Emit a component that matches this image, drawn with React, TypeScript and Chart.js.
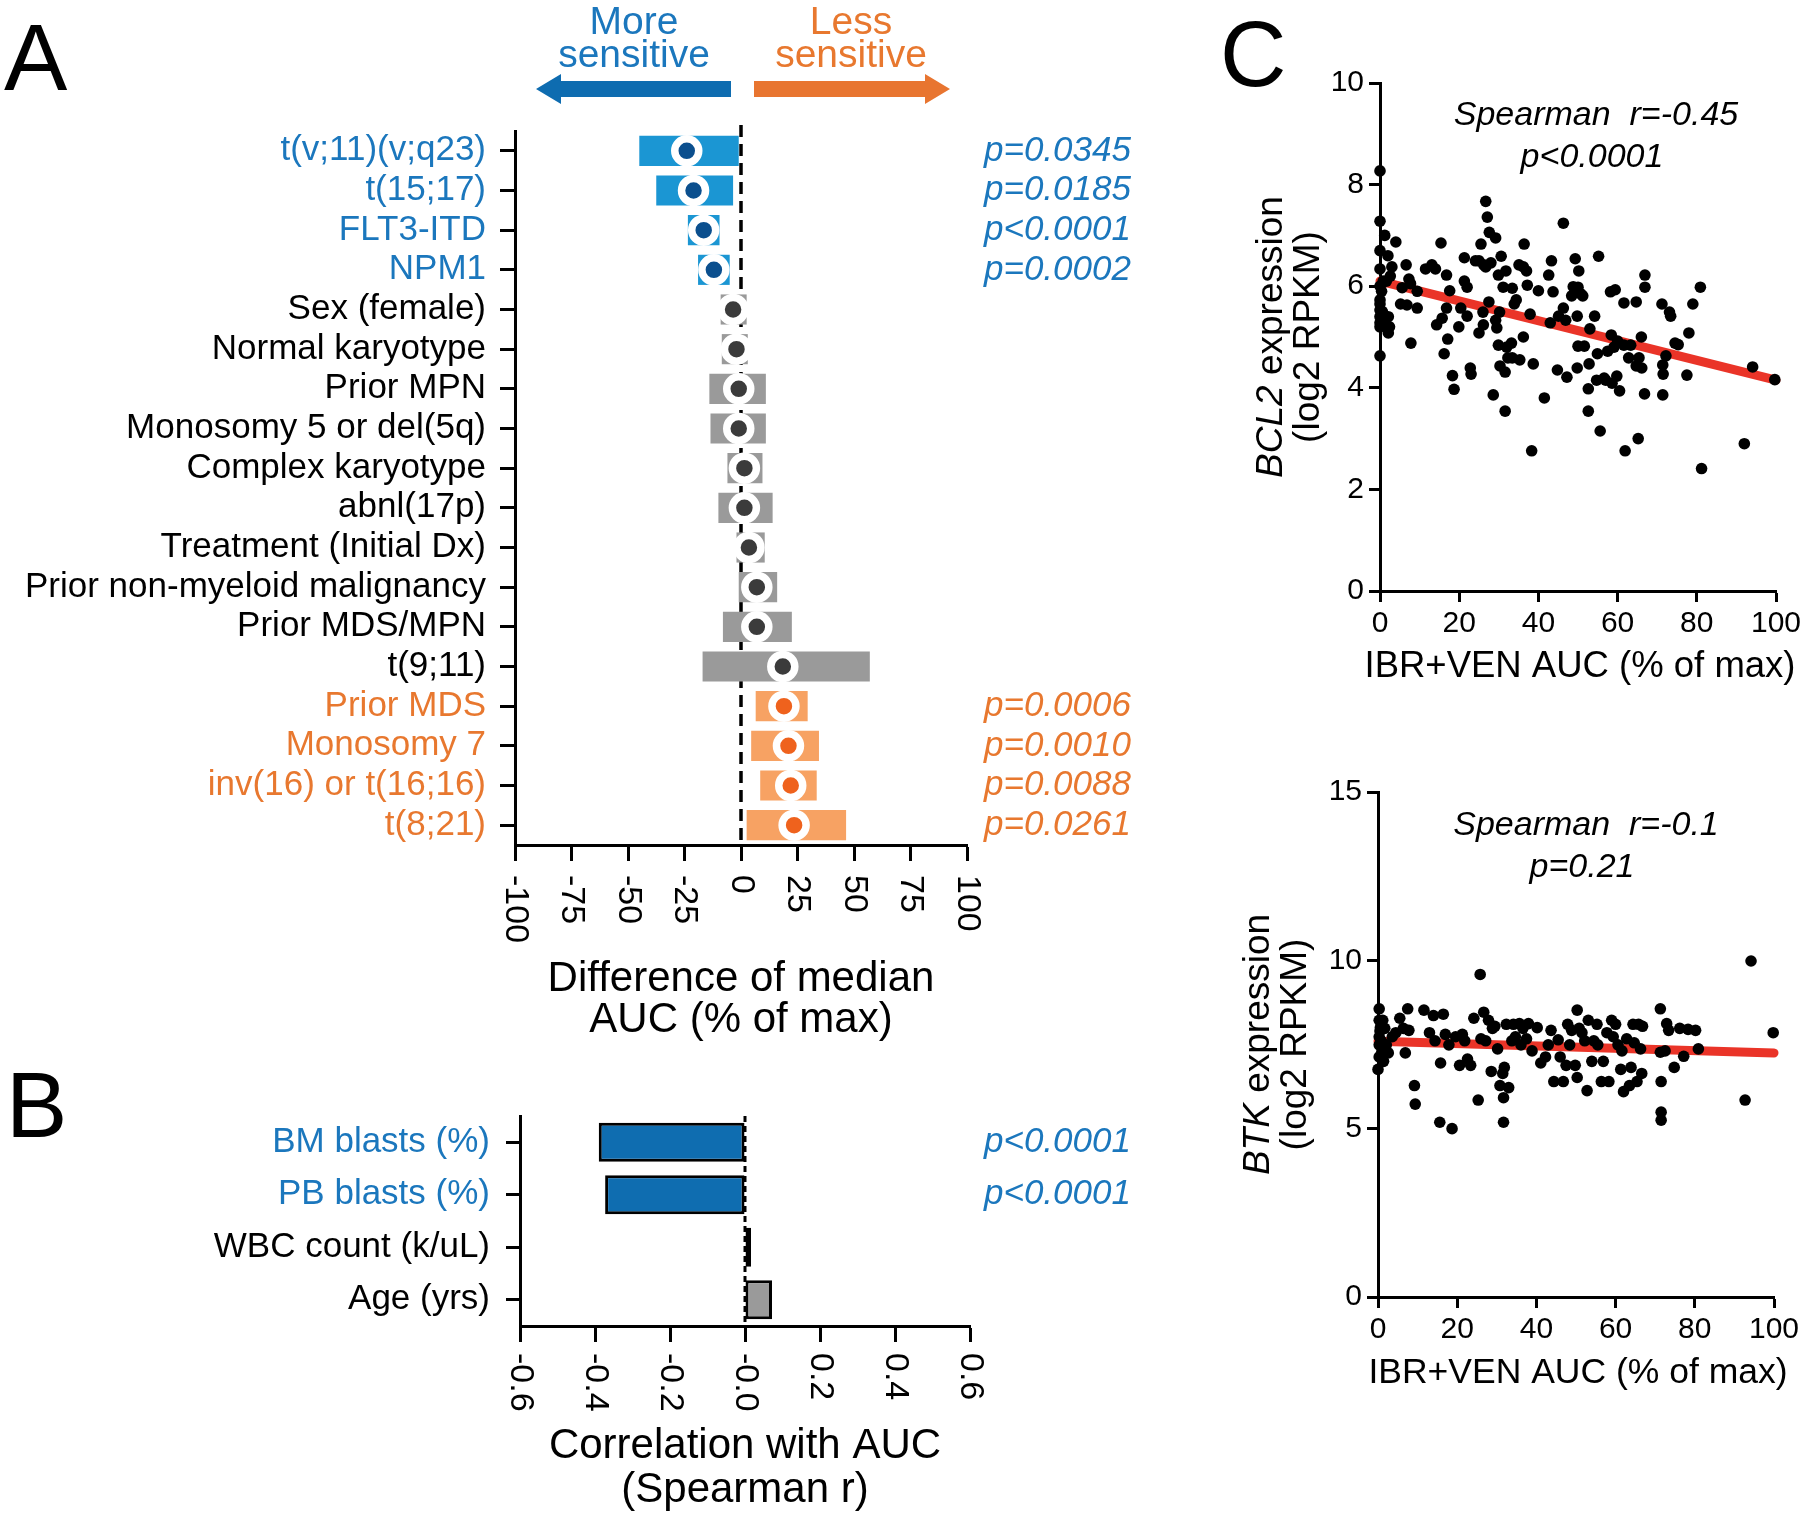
import React, { useEffect, useRef } from 'react';
import { Chart, registerables } from 'chart.js';
Chart.register(...registerables);

const W = 1800;
const H = 1515;
const FONT = '"Liberation Sans", Arial, Helvetica, sans-serif';

// ---------- Panel A data ----------
const catsA = ['t(v;11)(v;q23)', 't(15;17)', 'FLT3-ITD', 'NPM1', 'Sex (female)', 'Normal karyotype', 'Prior MPN',
  'Monosomy 5 or del(5q)', 'Complex karyotype', 'abnl(17p)', 'Treatment (Initial Dx)', 'Prior non-myeloid malignancy',
  'Prior MDS/MPN', 't(9;11)', 'Prior MDS', 'Monosomy 7', 'inv(16) or t(16;16)', 't(8;21)'];
const lowA = [-45, -37.5, -23.5, -19, -9, -8.5, -14, -13.5, -6, -10, -2, -1, -8, -17, 6.5, 4.5, 8.5, 2.5];
const highA = [-1, -3.5, -9.5, -5, 2.5, 3, 11, 11, 9.5, 14, 10.5, 16, 22.5, 57, 29.5, 34.5, 33.5, 46.5];
const medA = [-24, -21, -16.5, -12, -3.5, -2, -1, -1, 1.5, 1.5, 3.5, 7, 7, 18.5, 19, 21, 22, 23.5];
const groupA = ['more', 'more', 'more', 'more', 'ns', 'ns', 'ns', 'ns', 'ns', 'ns', 'ns', 'ns', 'ns', 'ns',
  'less', 'less', 'less', 'less'];
const pA = ['p=0.0345', 'p=0.0185', 'p<0.0001', 'p=0.0002', '', '', '', '', '', '', '', '', '', '',
  'p=0.0006', 'p=0.0010', 'p=0.0088', 'p=0.0261'];
const ticksA = ['-100', '-75', '-50', '-25', '0', '25', '50', '75', '100'];

// ---------- Panel B data ----------
const catsB = ['BM blasts (%)', 'PB blasts (%)', 'WBC count (k/uL)', 'Age (yrs)'];
const rB = [-0.39, -0.373, 0.016, 0.072];
const groupB = ['more', 'more', 'ns', 'ns'];
const pB = ['p<0.0001', 'p<0.0001', '', ''];
const ticksB = ['-0.6', '-0.4', '-0.2', '-0.0', '0.2', '0.4', '0.6'];

// ---------- Panel C data ----------
const bcl2X = [0, 0, 0, 0, 0, 0, 0, 0, 0, 0, 0, 0, 0.4, 0.6, 0.8, 1.0,
  1.2, 2, 2.6, 3, 1.6, 2.1, 2.1, 2.4, 4, 5.6, 5.2, 6.6, 6.8, 7.3, 7.7, 7.8, 9.4, 9.4,
  11.5, 13.1, 14, 14.3, 15.4, 15.7, 16.2, 16.8, 16.8, 17.1, 17.6, 18.3, 18.7, 19.9, 20.4, 21.3, 21.3, 22, 22,
  22.8, 23, 24.1, 25, 25, 25.5, 26, 26.1, 26.2, 26.7, 26.7, 27.1, 27.5, 27.6, 28, 28.6, 29.2, 29.2, 29.5, 29.9,
  29.9, 30.2, 30.3, 30.6, 31.1, 31.6, 31.6, 31.8, 32, 32.3, 33.2, 33.4, 33.4, 33.9, 34.4, 35.1, 35.3, 36.2, 36.2,
  36.4, 37, 37.2, 37.9, 38.3, 38.7, 40, 41.5, 42.6, 43, 43.3, 43.7, 44.8, 45.1, 46.3, 46.3, 46.9, 47.2, 48.4,
  48.8, 49.3, 49.8, 49.8, 50, 50, 50.2, 50.7, 51.2, 51.6, 52.6, 52.6, 52.8, 53, 54.2, 54.7, 54.9, 55.2, 55.6,
  56.6, 57, 57.5, 58.2, 58.4, 58.6, 59.4, 59.8, 59.1, 60, 60.5, 61.6, 61.6, 61.9, 62.8, 63.3, 64.7, 64.7, 65.2,
  65.4, 66, 66.1, 66.8, 66.9, 66.9, 71.2, 71.4, 71.5, 71.4, 72.2, 73.1, 73.4, 74.5, 75.3, 77.5, 78, 79, 80.9,
  81.2, 92, 94.1, 99.7];
const bcl2Y = [8.27, 7.28, 6.7, 6.34, 6.0, 5.73, 5.65, 5.53, 5.4, 5.28, 5.2, 4.63, 5.9, 5.5, 6.1, 5.35,
  7.0, 6.6, 6.2, 6.38, 6.1, 5.4, 5.08, 5.2, 6.87, 5.97, 5.65, 6.42, 5.63, 6.14, 6.05, 4.88, 5.9, 5.57,
  6.34, 6.42, 6.34, 5.24, 6.85, 5.37, 4.67, 6.22, 5.57, 4.96, 5.91, 4.24, 3.97, 5.2, 5.57, 6.56, 6.1, 5.98, 5.41,
  4.39, 4.27, 6.5, 6.5, 5.08, 6.83, 5.49, 5.24, 6.42, 7.67, 6.38, 7.36, 5.69, 7.06, 6.46, 3.86, 6.95, 5.33, 5.18, 6.22,
  4.84, 5.49, 4.43, 6.59, 5.98, 4.31, 3.54, 6.3, 4.8, 4.59, 4.88, 4.59, 5.96, 5.65, 5.73, 6.42, 4.55, 6.38, 5.0,
  6.83, 6.3, 6.02, 5.45, 2.76, 4.47, 5.91, 3.8, 6.22, 5.28, 6.5, 5.89, 4.35, 5.41, 7.24, 5.57, 5.33, 4.21, 5.81,
  5.99, 6.54, 4.39, 5.41, 5.98, 4.82, 6.3, 5.85, 5.81, 4.82, 3.98, 3.54, 4.47, 5.16, 5.41, 4.15, 4.67, 6.59, 3.15,
  4.19, 4.15, 4.72, 5.89, 5.04, 4.09, 5.93, 4.23, 4.8, 4.92, 3.94, 5.67, 4.84, 2.76, 4.59, 4.84, 5.69, 4.43, 3.0,
  4.59, 5.0, 4.39, 3.88, 6.22, 5.98, 5.65, 4.45, 4.27, 3.86, 4.63, 5.49, 5.41, 4.88, 4.85, 4.25, 5.08, 5.65, 5.98,
  2.41, 2.9, 4.41, 4.16];
const bcl2Fit = [6.1, 4.15];

const btkX = [0.3, 0.3, 0.3, 0.3, 0.3, 0, 0.8, 1.2, 1.7, 2.1, 2.6, 1.5, 0.5, 1.0, 0.6, 1.4,
  3.6, 4.5, 5.5, 6.4, 6.9, 7.5, 7.8, 9.2, 9.4, 11.6, 13, 14, 14.4, 15.6, 15.8, 16.5, 17, 17.9, 18.7, 19.6, 20.6,
  21.3, 21.9, 22.6, 23.4, 24.2, 25.3, 25.8, 26, 26.7, 27.2, 27.9, 28.6, 28.9, 29.5, 30.2, 30.8, 31.5, 31.7, 31.7,
  31.9, 32.4, 33, 33.8, 34.2, 34.7, 35.7, 36.1, 36.6, 37.5, 38, 38.9, 40.2, 41.1, 42.3, 43, 43.7, 44.4, 45.5, 46,
  46.8, 47.5, 47.9, 48.4, 48.9, 49.8, 50.3, 50.3, 50.8, 51.5, 52.2, 52.8, 53.1, 54, 54.5, 55.3, 55.5, 56.4, 56.9,
  57.8, 58.3, 59, 59.4, 60, 60.6, 61.6, 61.3, 62, 62.8, 63.5, 63.9, 64.4, 64.7, 65.4, 65.8, 66.3, 66.6, 66.8,
  71.3, 71.3, 71.5, 71.5, 71.5, 72.5, 72.9, 73.4, 74.8, 76.2, 77.2, 78.3, 80.2, 80.9, 92.7, 94.2, 99.8];
const btkY = [8.56, 8.22, 7.73, 7.49, 7.13, 6.76, 7.61, 8.22, 7.98, 7.49, 7.25, 7.37, 7.9, 7.3, 8.0, 7.0,
  7.73, 7.85, 8.28, 7.98, 7.25, 8.56, 7.92, 6.28, 5.73, 8.52, 7.85, 8.36, 7.61, 5.19, 6.95, 8.4, 7.8, 7.49, 5.0, 7.73, 6.88,
  7.8, 7.61, 7.07, 6.88, 8.28, 5.85, 9.58, 7.67, 8.46, 7.61, 8.22, 6.7, 7.98, 8.04, 7.37, 6.28, 6.64, 5.92, 5.19,
  6.82, 8.1, 6.22, 7.61, 8.1, 7.73, 8.12, 7.49, 7.98, 7.67, 8.12, 7.31, 8.0, 6.95, 7.13, 7.49, 7.92, 6.4, 7.64, 7.13,
  6.4, 6.88, 8.1, 7.49, 7.92, 6.88, 8.52, 6.52, 7.98, 7.85, 7.61, 6.13, 8.22, 7.0, 7.61, 8.1, 7.49, 6.4, 7.0,
  7.85, 6.4, 8.22, 7.73, 8.1, 7.49, 7.31, 6.76, 6.1, 7.67, 6.28, 6.82, 8.1, 7.55, 6.4, 8.1, 7.37, 6.64, 8.04,
  8.56, 7.27, 6.4, 5.49, 5.25, 7.31, 8.12, 7.92, 6.82, 7.98, 7.15, 7.95, 7.92, 7.37, 5.85, 9.98, 7.85];
const btkFit = [7.6, 7.25];
const fitX = [0, 100];

// ---------- colours ----------
const BLUE_TXT = '#1b77bd';
const ORANGE_TXT = '#e8782f';
const barColor: Record<string, string> = { more: '#1b96d3', ns: '#9a9a9a', less: '#f7a263' };
const dotColor: Record<string, string> = { more: '#0b4f8e', ns: '#3b3b3b', less: '#ef621d' };
const txtColor: Record<string, string> = { more: BLUE_TXT, ns: '#000000', less: ORANGE_TXT };

const f = (size: number, style = '') => `${style ? style + ' ' : ''}${size}px ${FONT}`;

function text(ctx: CanvasRenderingContext2D, s: string, x: number, y: number, font: string, color = '#000',
  align: CanvasTextAlign = 'center', baseline: CanvasTextBaseline = 'middle') {
  ctx.save();
  ctx.font = font;
  ctx.fillStyle = color;
  ctx.textAlign = align;
  ctx.textBaseline = baseline;
  ctx.fillText(s, x, y);
  ctx.restore();
}

function runs(ctx: CanvasRenderingContext2D, parts: { t: string; font: string }[], x: number, y: number) {
  ctx.save();
  ctx.textBaseline = 'middle';
  ctx.textAlign = 'left';
  ctx.fillStyle = '#000';
  let total = 0;
  parts.forEach((p) => { ctx.font = p.font; total += ctx.measureText(p.t).width; });
  let cx = x - total / 2;
  parts.forEach((p) => { ctx.font = p.font; ctx.fillText(p.t, cx, y); cx += ctx.measureText(p.t).width; });
  ctx.restore();
}

function rotTicks(chart: any, labels: string[], offset: number, font: string) {
  const s = chart.scales.x;
  const ctx = chart.ctx as CanvasRenderingContext2D;
  s.ticks.forEach((t: any, i: number) => {
    const x = s.getPixelForValue(t.value);
    ctx.save();
    ctx.translate(x, s.top + offset);
    ctx.rotate(Math.PI / 2);
    ctx.font = font;
    ctx.fillStyle = '#000';
    ctx.textAlign = 'left';
    ctx.textBaseline = 'middle';
    ctx.fillText(labels[i] ?? '', 0, 0);
    ctx.restore();
  });
}

function zeroLine(chart: any, extraTop: number, width: number, dash: number[]) {
  const ctx = chart.ctx as CanvasRenderingContext2D;
  const x = chart.scales.x.getPixelForValue(0);
  const a = chart.chartArea;
  ctx.save();
  ctx.strokeStyle = '#000';
  ctx.lineWidth = width;
  ctx.setLineDash(dash);
  ctx.beginPath();
  ctx.moveTo(x, a.top - extraTop);
  ctx.lineTo(x, a.bottom);
  ctx.stroke();
  ctx.restore();
}

function arrow(ctx: CanvasRenderingContext2D, tail: number, tip: number, yc: number, color: string) {
  const dir = tip > tail ? 1 : -1;
  const shaft = 16, headH = 30, headL = 25;
  const neck = tip - dir * headL;
  ctx.save();
  ctx.fillStyle = color;
  ctx.beginPath();
  ctx.moveTo(tail, yc - shaft / 2);
  ctx.lineTo(neck, yc - shaft / 2);
  ctx.lineTo(neck, yc - headH / 2);
  ctx.lineTo(tip, yc);
  ctx.lineTo(neck, yc + headH / 2);
  ctx.lineTo(neck, yc + shaft / 2);
  ctx.lineTo(tail, yc + shaft / 2);
  ctx.closePath();
  ctx.fill();
  ctx.restore();
}

const axisGrid = (len: number) => ({
  display: true, drawOnChartArea: false, drawTicks: true, tickLength: len, tickWidth: 3, tickColor: '#000', offset: false,
});
const axisBorder = { display: true, width: 3, color: '#000' };
const fixW = (w: number) => (s: any) => { s.width = w; s.paddingTop = 0; s.paddingBottom = 0; s.paddingLeft = 0; s.paddingRight = 0; };
const fixH = (h: number) => (s: any) => { s.height = h; s.paddingTop = 0; s.paddingBottom = 0; s.paddingLeft = 0; s.paddingRight = 0; };

function configA(): any {
  const top = 131, bottom = 845, left = 515, right = 967;
  return {
    type: 'bar',
    data: {
      labels: catsA,
      datasets: [
        {
          type: 'line', indexAxis: 'y', data: medA, showLine: false, clip: false,
          pointRadius: 12, pointHoverRadius: 12, pointBorderWidth: 7.5, pointBorderColor: '#fff',
          pointBackgroundColor: groupA.map((g) => dotColor[g]), xAxisID: 'x', yAxisID: 'y', order: 0,
        },
        {
          type: 'bar', data: lowA.map((l, i) => [l, highA[i]]), backgroundColor: groupA.map((g) => barColor[g]),
          barPercentage: 0.76, categoryPercentage: 1, borderWidth: 0, xAxisID: 'x', yAxisID: 'y', order: 1,
        },
      ],
    },
    options: {
      indexAxis: 'y', responsive: false, animation: false, devicePixelRatio: 1, events: [],
      layout: { padding: { left: 0, top, right: W - right - 300, bottom: H - bottom - 100 } },
      plugins: { legend: { display: false }, tooltip: { enabled: false } },
      scales: {
        y: {
          type: 'category', position: 'left', offset: true, grid: axisGrid(15), border: axisBorder,
          ticks: { autoSkip: false, padding: 14, font: { family: FONT, size: 35 }, color: (c: any) => txtColor[groupA[c.index]] },
          afterFit: fixW(left),
        },
        yp: {
          type: 'category', position: 'right', labels: pA, offset: true, grid: { display: false }, border: { display: false },
          ticks: { autoSkip: false, padding: 9, font: { family: FONT, size: 35, style: 'italic' }, color: (c: any) => txtColor[groupA[c.index]] },
          afterFit: fixW(300),
        },
        x: {
          type: 'linear', min: -100, max: 100, ticks: { stepSize: 25, display: false },
          grid: axisGrid(16), border: axisBorder, afterFit: fixH(100),
        },
      },
    },
    plugins: [{
      id: 'decoA',
      beforeDatasetsDraw(chart: any) { zeroLine(chart, 6, 3.5, [12, 7]); },
      afterDraw(chart: any) {
        const ctx = chart.ctx as CanvasRenderingContext2D;
        text(ctx, 'A', 4, 90, f(95), '#000', 'left', 'alphabetic');
        arrow(ctx, 731, 536, 89, '#0e6cb0');
        arrow(ctx, 754, 950, 89, '#e87530');
        text(ctx, 'More', 634, 23, f(39), BLUE_TXT);
        text(ctx, 'sensitive', 634, 56, f(39), BLUE_TXT);
        text(ctx, 'Less', 851, 23, f(39), ORANGE_TXT);
        text(ctx, 'sensitive', 851, 56, f(39), ORANGE_TXT);
        rotTicks(chart, ticksA, 30, f(34));
        const cx = (chart.chartArea.left + chart.chartArea.right) / 2;
        text(ctx, 'Difference of median', cx, 979, f(42));
        text(ctx, 'AUC (% of max)', cx, 1020, f(42));
      },
    }],
  };
}

function configB(): any {
  const top = 1116, bottom = 1326, left = 520, right = 970;
  return {
    type: 'bar',
    data: {
      labels: catsB,
      datasets: [{
        data: rB, backgroundColor: groupB.map((g) => (g === 'more' ? '#0f6db0' : '#9a9a9a')),
        borderColor: '#000', borderWidth: 3, borderSkipped: false, barPercentage: 0.74, categoryPercentage: 1,
        xAxisID: 'x', yAxisID: 'y',
      }],
    },
    options: {
      indexAxis: 'y', responsive: false, animation: false, devicePixelRatio: 1, events: [],
      layout: { padding: { left: 0, top, right: W - right - 300, bottom: H - bottom - 100 } },
      plugins: { legend: { display: false }, tooltip: { enabled: false } },
      scales: {
        y: {
          type: 'category', position: 'left', offset: true, grid: axisGrid(14), border: axisBorder,
          ticks: { autoSkip: false, padding: 16, font: { family: FONT, size: 35 }, color: (c: any) => txtColor[groupB[c.index]] },
          afterFit: fixW(left),
        },
        yp: {
          type: 'category', position: 'right', labels: pB, offset: true, grid: { display: false }, border: { display: false },
          ticks: { autoSkip: false, padding: 6, font: { family: FONT, size: 35, style: 'italic' }, color: (c: any) => txtColor[groupB[c.index]] },
          afterFit: fixW(300),
        },
        x: {
          type: 'linear', min: -0.6, max: 0.6, ticks: { stepSize: 0.2, display: false },
          grid: axisGrid(16), border: axisBorder, afterFit: fixH(100),
        },
      },
    },
    plugins: [{
      id: 'decoB',
      afterDatasetsDraw(chart: any) { zeroLine(chart, 0, 3, [6, 4]); },
      afterDraw(chart: any) {
        const ctx = chart.ctx as CanvasRenderingContext2D;
        text(ctx, 'B', 6, 1137, f(92), '#000', 'left', 'alphabetic');
        rotTicks(chart, ticksB, 27, f(34));
        const cx = (chart.chartArea.left + chart.chartArea.right) / 2;
        text(ctx, 'Correlation with AUC', cx, 1446, f(42));
        text(ctx, '(Spearman r)', cx, 1490, f(42));
      },
    }],
  };
}

function configC(opts: {
  xs: number[]; ys: number[]; fit: number[]; ymax: number; ystep: number;
  area: { left: number; right: number; top: number; bottom: number };
  gene: string; r: string; p: string; letter: boolean; titleY: number; annoY: number; annoDx: number;
  yTitleX: number; xTitleSize: number;
}): any {
  const { area } = opts;
  return {
    type: 'scatter',
    data: {
      datasets: [
        {
          data: opts.xs.map((x, i) => ({ x, y: opts.ys[i] })), pointRadius: 5.8, pointHoverRadius: 5.8,
          backgroundColor: '#000', borderWidth: 0, clip: false, order: 0,
        },
        {
          data: fitX.map((x, i) => ({ x, y: opts.fit[i] })), showLine: true, pointRadius: 0, borderColor: '#ea3428',
          borderWidth: 9, borderCapStyle: 'round', clip: false, order: 1,
        },
      ],
    },
    options: {
      responsive: false, animation: false, devicePixelRatio: 1, events: [],
      layout: { padding: { left: 1000, top: area.top, right: W - area.right, bottom: H - area.bottom - 60 } },
      plugins: { legend: { display: false }, tooltip: { enabled: false } },
      scales: {
        x: {
          type: 'linear', min: 0, max: 100, grid: axisGrid(11), border: axisBorder,
          ticks: { stepSize: 20, padding: 4, color: '#000', font: { family: FONT, size: 30 } }, afterFit: fixH(60),
        },
        y: {
          type: 'linear', min: 0, max: opts.ymax, grid: axisGrid(11), border: axisBorder,
          ticks: { stepSize: opts.ystep, padding: 5, color: '#000', font: { family: FONT, size: 30 } },
          afterFit: fixW(area.left - 1000),
        },
      },
    },
    plugins: [{
      id: 'decoC',
      afterDraw(chart: any) {
        const ctx = chart.ctx as CanvasRenderingContext2D;
        const a = chart.chartArea;
        if (opts.letter) text(ctx, 'C', 1220, 86, f(92), '#000', 'left', 'alphabetic');
        const cx = (a.left + a.right) / 2;
        runs(ctx, [{ t: opts.r, font: f(34, 'italic') }], cx + opts.annoDx, opts.annoY);
        runs(ctx, [{ t: opts.p, font: f(34, 'italic') }], cx + opts.annoDx - 4, opts.annoY + 42);
        runs(ctx, [{ t: 'IBR+VEN AUC (% of max)', font: f(opts.xTitleSize) }], cx + 2, opts.titleY);
        const cy = (a.top + a.bottom) / 2;
        ctx.save();
        ctx.translate(opts.yTitleX, cy);
        ctx.rotate(-Math.PI / 2);
        runs(ctx, [{ t: opts.gene, font: f(37, 'italic') }, { t: ' expression', font: f(37) }], 0, 0);
        runs(ctx, [{ t: '(log2 RPKM)', font: f(37) }], 0, 37);
        ctx.restore();
      },
    }],
  };
}

function ChartCanvas({ make }: { make: () => any }) {
  const ref = useRef<HTMLCanvasElement>(null);
  useEffect(() => {
    const chart = new Chart(ref.current as HTMLCanvasElement, make());
    return () => chart.destroy();
  }, []);
  return <canvas ref={ref} width={W} height={H} style={{ position: 'absolute', left: 0, top: 0, width: W, height: H }} />;
}

export default function App() {
  return (
    <div style={{ position: 'absolute', left: 0, top: 0, width: W, height: H, background: '#fff', overflow: 'hidden' }}>
      <ChartCanvas make={configA} />
      <ChartCanvas make={configB} />
      <ChartCanvas make={() => configC({
        xs: bcl2X, ys: bcl2Y, fit: bcl2Fit, ymax: 10, ystep: 2,
        area: { left: 1380, right: 1776, top: 83, bottom: 591 },
        gene: 'BCL2', r: 'Spearman  r=-0.45', p: 'p<0.0001', letter: true, titleY: 667, annoY: 116, annoDx: 18,
        yTitleX: 1272, xTitleSize: 36.5,
      })} />
      <ChartCanvas make={() => configC({
        xs: btkX, ys: btkY, fit: btkFit, ymax: 15, ystep: 5,
        area: { left: 1378, right: 1774, top: 792, bottom: 1297 },
        gene: 'BTK', r: 'Spearman  r=-0.1', p: 'p=0.21', letter: false, titleY: 1373, annoY: 826, annoDx: 10,
        yTitleX: 1259, xTitleSize: 35.5,
      })} />
    </div>
  );
}
